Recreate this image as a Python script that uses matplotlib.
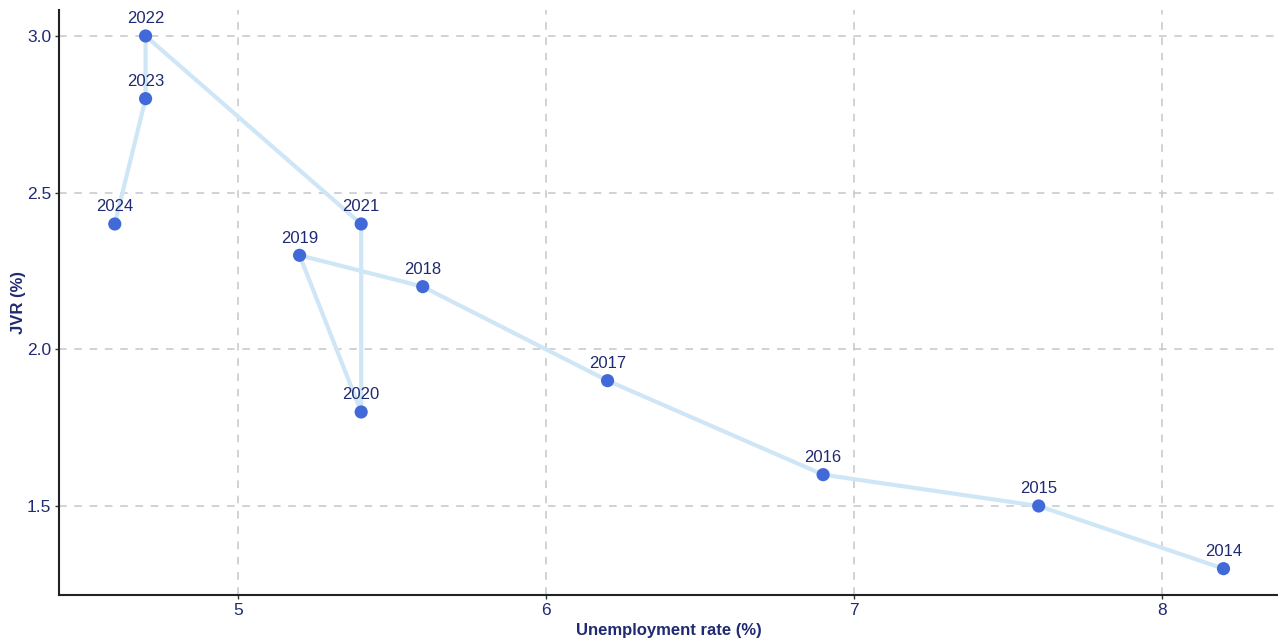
import matplotlib.pyplot as plt

years = [2014, 2015, 2016, 2017, 2018, 2019, 2020, 2021, 2022, 2023, 2024]
unemployment = [8.2, 7.6, 6.9, 6.2, 5.6, 5.2, 5.4, 5.4, 4.7, 4.7, 4.6]
jvr = [1.3, 1.5, 1.6, 1.9, 2.2, 2.3, 1.8, 2.4, 3.0, 2.8, 2.4]

navy = '#1f2a72'
plt.rcParams['font.family'] = ['Liberation Sans', 'DejaVu Sans']

fig = plt.figure(figsize=(12.78, 6.39), dpi=100)
ax = fig.add_axes([0.0462, 0.0689, 0.9538, 0.9155])

ax.plot(unemployment, jvr, color='#cfe6f6', lw=3, zorder=2)
ax.scatter(unemployment, jvr, s=90, color='#4169d8', zorder=3, edgecolors='none')
for x, y, yr in zip(unemployment, jvr, years):
    ax.annotate(str(yr), (x, y), xytext=(0, 7), textcoords='offset points',
                ha='center', va='bottom', fontsize=12, color=navy)

ax.set_xlim(4.419, 8.377)
ax.set_ylim(1.216, 3.083)
ax.set_xticks([5, 6, 7, 8])
ax.set_yticks([1.5, 2.0, 2.5, 3.0])
ax.set_yticklabels(['1.5', '2.0', '2.5', '3.0'])
ax.grid(True, color='#c4c8cc', linestyle=(0, (5, 5)), lw=1.1)
ax.set_axisbelow(True)

for s in ['top', 'right']:
    ax.spines[s].set_visible(False)
for s in ['left', 'bottom']:
    ax.spines[s].set_color('#222222')
    ax.spines[s].set_linewidth(1.5)
ax.tick_params(colors='#333333', labelcolor=navy, labelsize=12.5, length=3, width=1, pad=2.5)

ax.set_xlabel('Unemployment rate (%)', fontsize=12, fontweight='bold', color=navy, labelpad=4)
ax.set_ylabel('JVR (%)', fontsize=12, fontweight='bold', color=navy, labelpad=1)

fig.savefig('out.png', dpi=100)
